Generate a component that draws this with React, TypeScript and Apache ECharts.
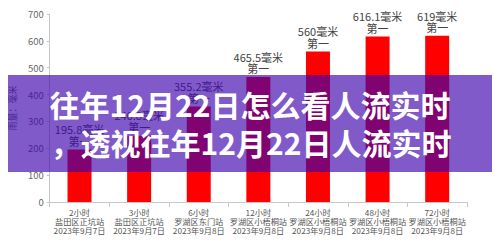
import React, { useEffect, useRef } from "react";
import * as echarts from "echarts";

const categories = [
  "2小时\n盐田区正坑站\n2023年9月7日",
  "3小时\n盐田区正坑站\n2023年9月7日",
  "6小时\n罗湖区东门站\n2023年9月8日",
  "12小时\n罗湖区小梧桐站\n2023年9月8日",
  "24小时\n罗湖区小梧桐站\n2023年9月8日",
  "48小时\n罗湖区小梧桐站\n2023年9月8日",
  "72小时\n罗湖区小梧桐站\n2023年9月8日",
];
const rainfall = [195.8, 246.8, 355.2, 465.5, 560, 616.1, 619];
const rankLabel = "第一";
const yTicks = [0, 100, 200, 300, 400, 500, 600, 700];
const bannerLines = ["往年12月22日怎么看人流实时", "，透视往年12月22日人流实时"];

const FONT = "'Noto Sans CJK SC', 'Noto Sans', sans-serif";

export default function App() {
  const ref = useRef<HTMLDivElement>(null);
  useEffect(() => {
    if (!ref.current) return;
    const chart = echarts.init(ref.current, undefined, { renderer: "svg" });
    chart.setOption({
      animation: false,
      backgroundColor: "#ffffff",
      textStyle: { fontFamily: FONT },
      grid: { left: 41, right: 33, top: 14, bottom: 47, containLabel: false },
      xAxis: {
        type: "category",
        data: categories,
        axisLine: { lineStyle: { color: "#c8c8c8" } },
        axisTick: { show: true, length: 5, lineStyle: { color: "#c8c8c8" } },
        axisLabel: {
          color: "#555",
          fontSize: 8.2,
          lineHeight: 8.7,
          margin: 6,
          interval: 0,
          fontFamily: FONT,
        },
      },
      yAxis: {
        type: "value",
        min: yTicks[0],
        max: yTicks[yTicks.length - 1],
        interval: 100,
        name: "雨量：毫米",
        nameLocation: "middle",
        nameGap: 25,
        nameRotate: 90,
        nameTextStyle: { color: "#666", fontSize: 9, fontFamily: FONT },
        axisLine: { show: true, lineStyle: { color: "#c8c8c8" } },
        axisTick: { show: true, length: 3, lineStyle: { color: "#c8c8c8" } },
        splitLine: { show: false },
        axisLabel: { color: "#666", fontSize: 9.5, margin: 6, fontFamily: FONT },
      },
      series: [
        {
          type: "bar",
          data: rainfall,
          barWidth: 24,
          itemStyle: { color: "#ff0000" },
          label: {
            show: true,
            position: "top",
            distance: 3,
            color: "#444",
            fontSize: 11,
            lineHeight: 11.5,
            fontFamily: FONT,
            formatter: (p: any) => `${p.value}毫米\n${rankLabel}`,
          },
        },
      ],
      graphic: [
        {
          type: "rect",
          z: 100,
          shape: { x: 0, y: 75, width: 500, height: 97 },
          style: { fill: "rgba(62,4,172,0.66)" },
        },
        {
          type: "text",
          z: 101,
          x: 250,
          y: 104,
          style: {
            text: bannerLines[0],
            fill: "#ffffff",
            font: `bold 30px ${FONT}`,
            align: "center",
            verticalAlign: "middle",
            shadowColor: "rgba(0,0,0,0.3)",
            shadowBlur: 2,
            shadowOffsetX: 1,
            shadowOffsetY: 1,
          },
        },
        {
          type: "text",
          z: 101,
          x: 251,
          y: 142,
          style: {
            text: bannerLines[1],
            fill: "#ffffff",
            font: `bold 30px ${FONT}`,
            align: "center",
            verticalAlign: "middle",
            shadowColor: "rgba(0,0,0,0.3)",
            shadowBlur: 2,
            shadowOffsetX: 1,
            shadowOffsetY: 1,
          },
        },
      ],
    });
    return () => chart.dispose();
  }, []);
  return <div ref={ref} style={{ width: 500, height: 249, margin: -8 }} />;
}
